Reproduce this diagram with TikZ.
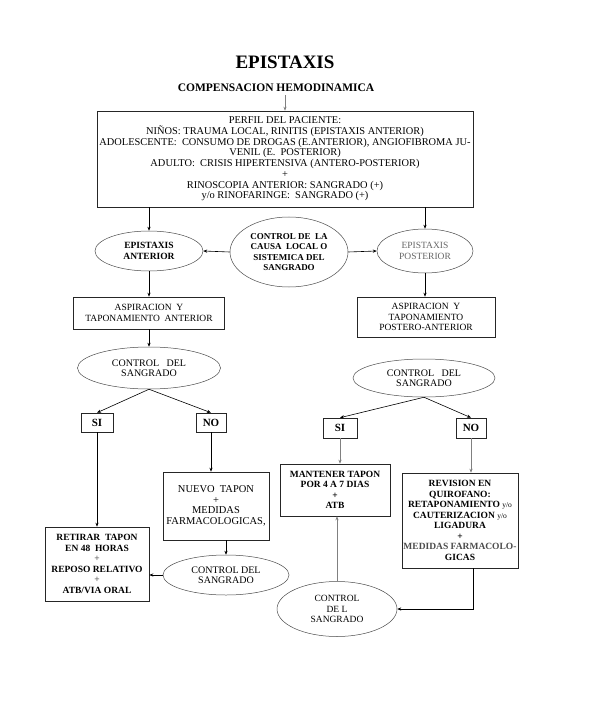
\documentclass[tikz,border=0pt]{standalone}
\usepackage{fontspec}
\setmainfont{Liberation Serif}
\usetikzlibrary{shapes.geometric,arrows.meta}
\begin{document}
\begin{tikzpicture}[x=1pt,y=-1pt,
 box/.style={draw=black!85,line width=0.6pt,align=center,inner sep=1pt,font=\fontsize{9.5}{10.5}\selectfont},
 ell/.style={ellipse,draw=black!70,line width=0.5pt,align=center,inner sep=0pt,font=\fontsize{9.5}{10.5}\selectfont},
 arr/.style={draw=black,line width=0.6pt,-{Stealth[length=4pt,width=3.2pt]}},
 garr/.style={arr,draw=black!50},
 ttl/.style={font=\fontsize{19}{22}\selectfont\bfseries},
 sub/.style={font=\fontsize{11.5}{12}\selectfont\bfseries},
 sino/.style={box,font=\fontsize{11}{12}\selectfont\bfseries}
]
\fill[white] (0,0) rectangle (590,708);
\useasboundingbox (0,0) rectangle (590,708);

\node[ttl] (title) at (285,62) {EPISTAXIS};
\node[sub] (comp) at (276,88) {COMPENSACION HEMODINAMICA};

\node[box,minimum width=376pt,minimum height=96pt,font=\fontsize{10.4}{10.7}\selectfont] (perfil) at (285,159) {PERFIL DEL PACIENTE:\\
NIÑOS: TRAUMA LOCAL, RINITIS (EPISTAXIS ANTERIOR)\\
ADOLESCENTE:\ \ CONSUMO DE DROGAS (E.ANTERIOR), ANGIOFIBROMA JU-\\
VENIL (E.\ \ POSTERIOR)\\
ADULTO:\ \ CRISIS HIPERTENSIVA (ANTERO-POSTERIOR)\\
+\\
RINOSCOPIA ANTERIOR: SANGRADO (+)\\
y/o RINOFARINGE:\ \ SANGRADO (+)};

\node[ell,minimum width=108pt,minimum height=40pt,font=\fontsize{9.5}{10.5}\selectfont\bfseries] (ea) at (149,251) {EPISTAXIS\\ANTERIOR};
\node[ell,minimum width=118pt,minimum height=70pt,font=\fontsize{9}{10.5}\selectfont\bfseries] (cc) at (289,252) {CONTROL DE\ \ LA\\CAUSA\ \ LOCAL O\\SISTEMICA DEL\\SANGRADO};
\node[ell,minimum width=96pt,minimum height=44pt,text=black!60] (ep) at (425,251) {EPISTAXIS\\POSTERIOR};

\node[box,minimum width=151pt,minimum height=32pt] (asp1) at (149,313) {ASPIRACION\ \ Y\\TAPONAMIENTO\ \ ANTERIOR};
\node[box,minimum width=138pt,minimum height=40pt] (asp2) at (426,317) {ASPIRACION\ \ Y\\TAPONAMIENTO\\POSTERO-ANTERIOR};

\node[ell,minimum width=143pt,minimum height=42pt,font=\fontsize{10}{10.5}\selectfont] (cl) at (149,368) {CONTROL\ \ \ DEL\\SANGRADO};
\node[sino,minimum width=32pt,minimum height=19pt] (si1) at (97,422.5) {SI};
\node[sino,minimum width=30pt,minimum height=19pt] (no1) at (211,422.5) {NO};

\node[box,minimum width=104pt,minimum height=74pt,font=\fontsize{9.5}{10.5}\selectfont\bfseries] (ret) at (97,564) {RETIRAR\ \ TAPON\\EN 48\ \ HORAS\\\textcolor{black!60}{+}\\REPOSO RELATIVO\\\textcolor{black!60}{+}\\ATB/VIA ORAL};
\node[box,minimum width=106pt,minimum height=68pt,font=\fontsize{10.5}{10.5}\selectfont] (nuevo) at (216,506) {NUEVO\ \ TAPON\\+\\MEDIDAS\\FARMACOLOGICAS,};
\node[ell,minimum width=126pt,minimum height=40pt,font=\fontsize{10}{10.5}\selectfont] (cb) at (226,575) {CONTROL DEL\\SANGRADO};

\node[ell,minimum width=142pt,minimum height=38pt,font=\fontsize{10}{10.5}\selectfont] (cr) at (424,378) {CONTROL\ \ \ DEL\\SANGRADO};
\node[sino,minimum width=34pt,minimum height=20pt] (si2) at (340,428) {SI};
\node[sino,minimum width=30pt,minimum height=20pt] (no2) at (471,428) {NO};

\node[box,minimum width=110pt,minimum height=52pt,font=\fontsize{9.5}{10.5}\selectfont\bfseries] (mant) at (335,490) {MANTENER TAPON\\POR 4 A 7 DIAS\\+\\ATB};
\node[box,minimum width=116pt,minimum height=95pt,font=\fontsize{9.5}{10.5}\selectfont\bfseries] (rev) at (460,520.5) {REVISION EN\\QUIROFANO:\\RETAPONAMIENTO {\mdseries\fontsize{7.5}{8}\selectfont y/o}\\CAUTERIZACION {\mdseries\fontsize{7.5}{8}\selectfont y/o}\\LIGADURA\\+\\\textcolor{black!70}{MEDIDAS FARMACOLO-}\\GICAS};
\node[ell,minimum width=120pt,minimum height=55pt,font=\fontsize{9.5}{10.5}\selectfont] (cbr) at (337,609) {CONTROL\\DE L\\SANGRADO};

\draw[garr] (perfil.north |- comp.south) -- (perfil.north);
\draw[arr] (perfil.south -| ea.north) -- (ea.north);
\draw[arr] (perfil.south -| ep.north) -- (ep.north);
\draw[arr] (cc.west) -- (ea.east);
\draw[arr] (cc.east) -- (ep.west);
\draw[arr] (ea.south) -- (asp1.north);
\draw[arr] (ep.south) -- (ep.south |- asp2.north);
\draw[arr] (asp1.south) -- (cl.north);
\draw[arr] (cl.south) -- (si1.north);
\draw[arr] (cl.south) -- (no1.north);
\draw[arr] (si1.south) -- (si1.south |- ret.north);
\draw[arr] (no1.south) -- (no1.south |- nuevo.north);
\draw[arr] (nuevo.south -| cb.north) -- (cb.north);
\draw[arr] (cb.west) -- (cb.west -| ret.east);
\draw[arr] (cr.south) -- (si2.north);
\draw[arr] (cr.south) -- (no2.north);
\draw[garr] (si2.south) -- (si2.south |- mant.north);
\draw[garr] (no2.south) -- (no2.south |- rev.north);
\draw[arr] ([xshift=13pt]rev.south) |- (cbr.east);
\draw[garr] (cbr.north) -- (cbr.north |- mant.south);
\end{tikzpicture}
\end{document}
